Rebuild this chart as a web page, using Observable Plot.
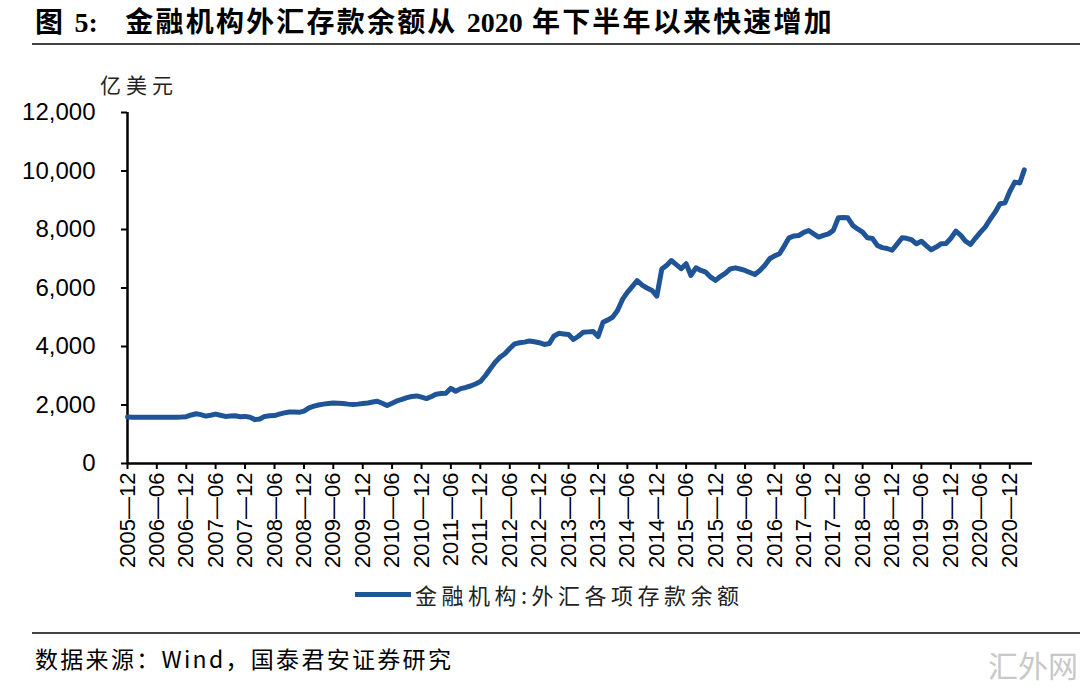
<!DOCTYPE html>
<html><head><meta charset="utf-8">
<script src="https://cdn.jsdelivr.net/npm/d3@7"></script>
<script src="https://cdn.jsdelivr.net/npm/@observablehq/plot@0.6"></script>
<style>
body{margin:0;background:#fff;width:1080px;height:688px;position:relative;overflow:hidden;font-family:"Noto Sans CJK SC",sans-serif;color:#000;}
.abs{position:absolute;white-space:nowrap;}
.tight{letter-spacing:0;}
</style></head><body>
<div class="abs" style="left:35px;top:0px;font-size:28px;font-weight:bold;font-family:'Liberation Serif','Noto Sans CJK SC',serif;letter-spacing:2.2px;">图 <span class="tight">5:</span>&nbsp;&nbsp; 金融机构外汇存款余额从 <span class="tight">2020</span> 年下半年以来快速增加</div>
<div class="abs" style="left:32px;top:43px;width:1048px;height:2px;background:#444"></div>
<div class="abs" style="left:100px;top:69px;font-size:21px;letter-spacing:5px;color:#222;">亿美元</div>
<div id="chart" class="abs" style="left:0;top:50px"></div>
<div class="abs" style="left:355px;top:578px;display:flex;align-items:center;">
  <span style="display:inline-block;width:56px;height:5px;background:#1f5596;margin-right:4px;"></span>
  <span id="legtxt" style="font-size:22px;letter-spacing:4.5px;color:#222;"></span>
</div>
<div class="abs" style="left:32px;top:632px;width:1048px;height:2px;background:#444"></div>
<div class="abs" style="left:35px;top:641px;font-size:23px;letter-spacing:2.3px;">数据来源：Wind，国泰君安证券研究</div>
<div class="abs" style="left:988px;top:642px;font-size:30px;color:#c8c8c8;">汇外网</div>
<script>
// Series: 金融机构:外汇各项存款余额 (亿美元), monthly from 2005-12
const seriesName = "金融机构:外汇各项存款余额";
const startYear = 2005, startMonth = 12;
const values = [
  1590,1585,1580,1580,1585,1580,1580,1585,1580,1585,1585,1590,1600,
  1660,1700,1670,1620,1650,1690,1650,1610,1620,1630,1600,1610,1580,1500,1520,
  1610,1630,1640,1690,1730,1760,1760,1750,1790,1900,1960,2000,2030,2050,2065,
  2060,2050,2030,2017,2030,2050,2070,2100,2130,2060,1985,2060,2140,2190,2250,
  2290,2310,2270,2220,2290,2370,2390,2400,2570,2470,2560,2600,2650,2720,2800,
  3000,3240,3450,3630,3750,3930,4090,4130,4150,4190,4160,4130,4070,4100,4350,
  4450,4430,4410,4240,4350,4490,4500,4510,4340,4830,4910,5000,5230,5600,5850,
  6050,6250,6100,6000,5915,5720,6650,6780,6940,6800,6660,6830,6430,6690,6600,
  6540,6370,6260,6400,6510,6650,6690,6650,6600,6530,6460,6600,6770,7000,7100,
  7170,7450,7716,7780,7795,7900,7966,7850,7740,7800,7850,7970,8400,8410,8400,
  8140,8020,7910,7716,7690,7454,7380,7350,7290,7500,7716,7700,7650,7510,7600,
  7450,7306,7400,7510,7520,7700,7943,7800,7600,7488,7700,7900,8080,8350,8593,
  8880,8914,9300,9620,9590,10040
];
const yTicks = [0,2000,4000,6000,8000,10000,12000];
const xTickLabels = ["2005-12","2006-06","2006-12","2007-06","2007-12","2008-06","2008-12","2009-06","2009-12","2010-06","2010-12","2011-06","2011-12","2012-06","2012-12","2013-06","2013-12","2014-06","2014-12","2015-06","2015-12","2016-06","2016-12","2017-06","2017-12","2018-06","2018-12","2019-06","2019-12","2020-06","2020-12"];

document.getElementById("legtxt").textContent = seriesName;
const data = values.map((v,i)=>({date:new Date(Date.UTC(startYear, startMonth-1+i, 1)), value:v}));
const parse = s => new Date(Date.UTC(+s.slice(0,4), +s.slice(5,7)-1, 1));
const xTicks = xTickLabels.map(parse);
const x0 = data[0].date;
const x1 = new Date(Date.UTC(2021,3,21));
const labelOf = d => d3.utcFormat("%Y")(d) + "—" + d3.utcFormat("%m")(d);

const chart = Plot.plot({
  width:1080, height:530,
  marginLeft:127, marginRight:48, marginTop:62, marginBottom:117,
  style:{fontFamily:"'Liberation Sans', Arial, sans-serif", fontSize:"22px", color:"#000", background:"transparent"},
  x:{type:"utc", domain:[x0,x1]},
  y:{domain:[0,12000]},
  marks:[
    Plot.axisY({ticks:yTicks, tickFormat:d3.format(","), tickSize:6, tickPadding:26, strokeWidth:2, fontSize:24, label:null}),
    Plot.axisX({ticks:xTicks, tickFormat:labelOf, tickRotate:-90, tickSize:6, tickPadding:3, strokeWidth:2, fontSize:22, label:null}),
    Plot.ruleX([x0], {y1:0, y2:12000, stroke:"#000", strokeWidth:2.5}),
    Plot.ruleY([0], {stroke:"#000", strokeWidth:2.5}),
    Plot.lineY(data, {x:"date", y:"value", stroke:"#1f5596", strokeWidth:5, strokeLinejoin:"round"})
  ]
});
document.getElementById("chart").appendChild(chart);
</script>
</body></html>
